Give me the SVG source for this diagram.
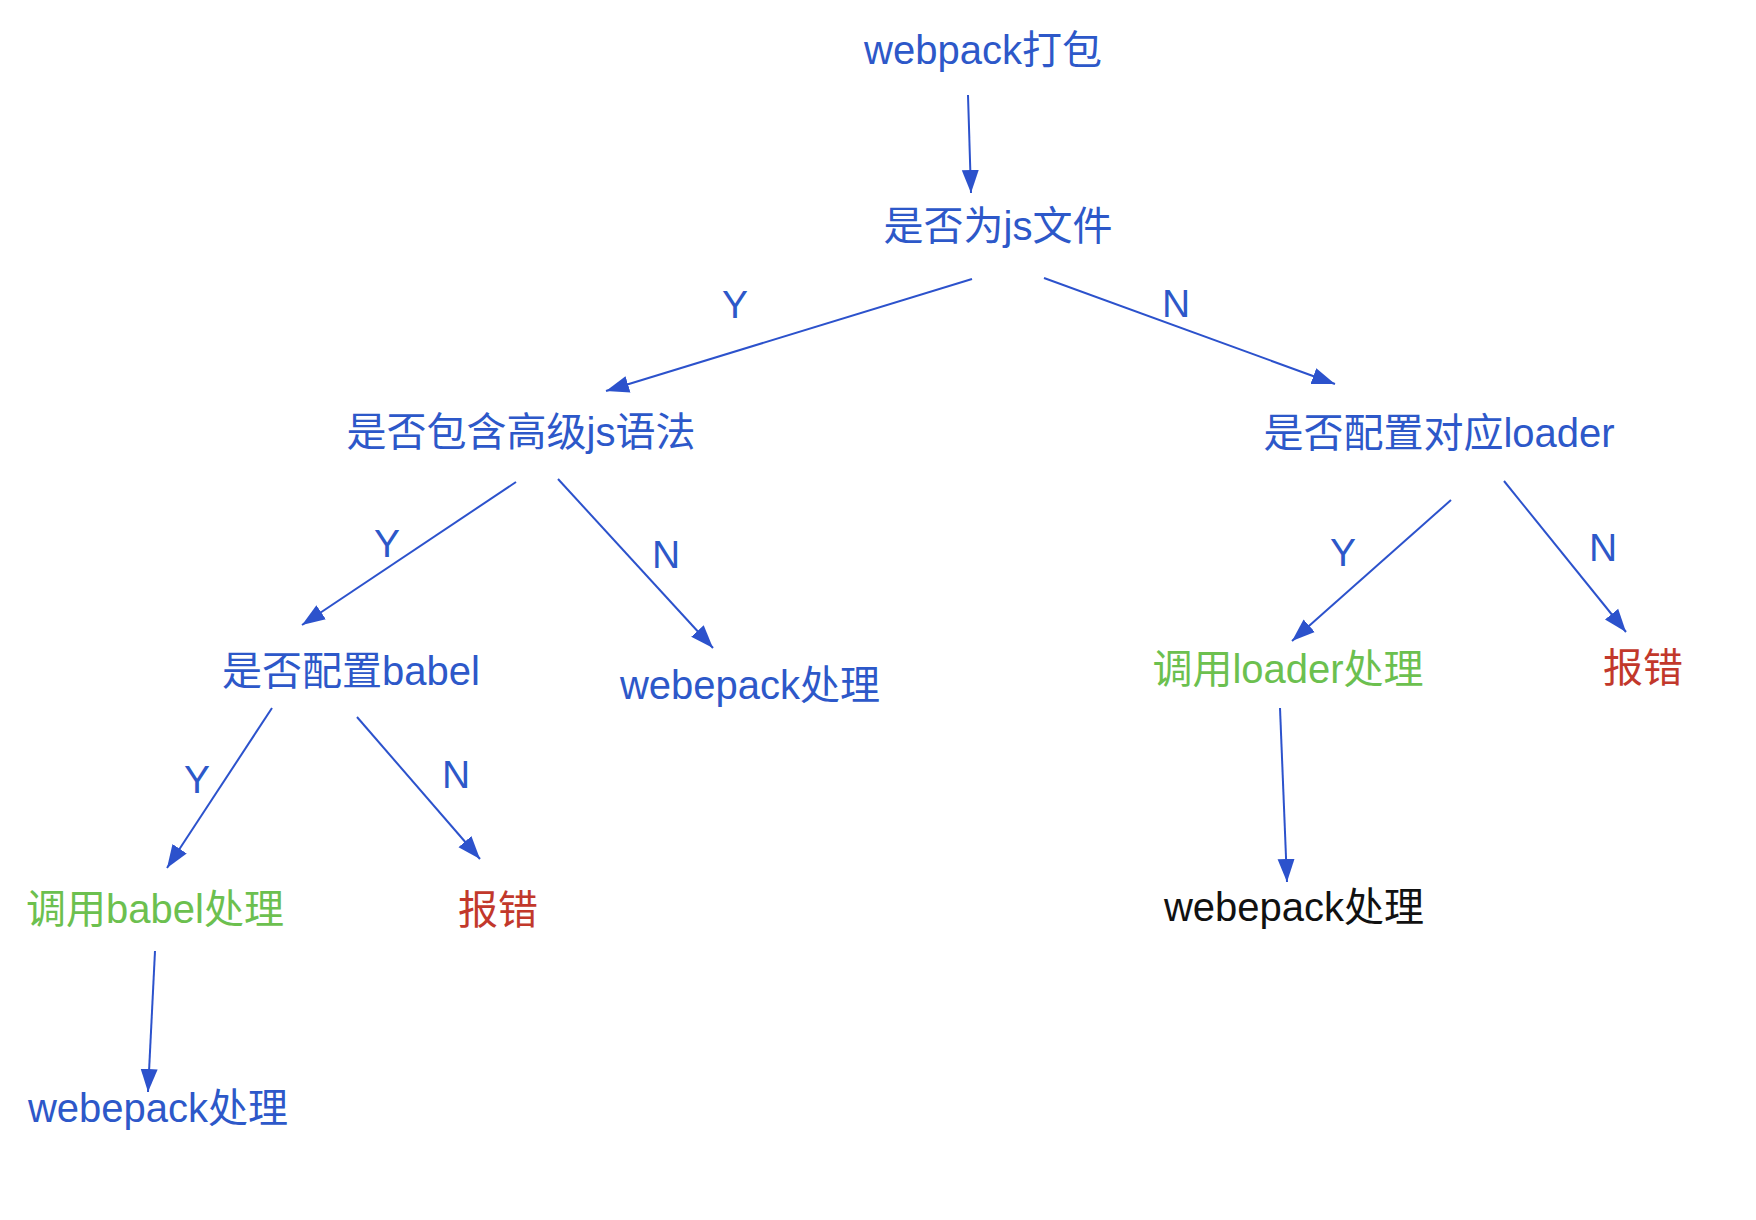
<svg xmlns="http://www.w3.org/2000/svg" width="1756" height="1220" viewBox="0 0 1756 1220">
<style>
text{font-family:"Liberation Sans","Noto Sans CJK SC",sans-serif;font-size:40px;text-anchor:middle}
.b{fill:#2d58c9}
.g{fill:#6cc04f}
.r{fill:#c2382b}
.k{fill:#111111}
.lbl{fill:#2d58c9;font-size:39px}
.c{stroke:#2c52cc;stroke-width:2;fill:none;marker-end:url(#ah)}
</style>
<defs>
<marker id="ah" markerUnits="userSpaceOnUse" markerWidth="26" markerHeight="18" refX="23" refY="9" orient="auto">
<path d="M0,0.5 L23,9 L0,17.5 Z" fill="#2c52cc"/>
</marker>
</defs>
<rect width="1756" height="1220" fill="#ffffff"/>
<g id="connectors">
<line class="c" x1="968" y1="95" x2="971" y2="193"/>
<line class="c" x1="972" y1="279" x2="606" y2="391"/>
<line class="c" x1="1044" y1="278" x2="1335" y2="384"/>
<line class="c" x1="516" y1="482" x2="302" y2="625"/>
<line class="c" x1="558" y1="479" x2="713" y2="648"/>
<line class="c" x1="272" y1="708" x2="167" y2="868"/>
<line class="c" x1="357" y1="717" x2="480" y2="859"/>
<line class="c" x1="1451" y1="500" x2="1292" y2="641"/>
<line class="c" x1="1504" y1="481" x2="1626" y2="632"/>
<line class="c" x1="1280" y1="708" x2="1287" y2="882"/>
<line class="c" x1="155" y1="951" x2="148" y2="1092"/>
<text class="lbl" x="735" y="318">Y</text>
<text class="lbl" x="1176" y="317">N</text>
<text class="lbl" x="387" y="557">Y</text>
<text class="lbl" x="666" y="568">N</text>
<text class="lbl" x="1343" y="566">Y</text>
<text class="lbl" x="1603" y="561">N</text>
<text class="lbl" x="197" y="793">Y</text>
<text class="lbl" x="456" y="788">N</text>
</g>
<g id="n1"><text class="b" x="983" y="64">webpack打包</text></g>
<g id="n2"><text class="b" x="998" y="240">是否为js文件</text></g>
<g id="n3"><text class="b" x="521" y="446">是否包含高级js语法</text></g>
<g id="n4"><text class="b" x="1439" y="447">是否配置对应loader</text></g>
<g id="n5"><text class="b" x="351" y="685">是否配置babel</text></g>
<g id="n6"><text class="b" x="750" y="699">webepack处理</text></g>
<g id="n7"><text class="g" x="1288" y="683">调用loader处理</text></g>
<g id="n8"><text class="r" x="1643" y="682">报错</text></g>
<g id="n9"><text class="g" x="155" y="923">调用babel处理</text></g>
<g id="n10"><text class="r" x="498" y="924">报错</text></g>
<g id="n11"><text class="k" x="1294" y="921">webepack处理</text></g>
<g id="n12"><text class="b" x="158" y="1122">webepack处理</text></g>
</svg>
